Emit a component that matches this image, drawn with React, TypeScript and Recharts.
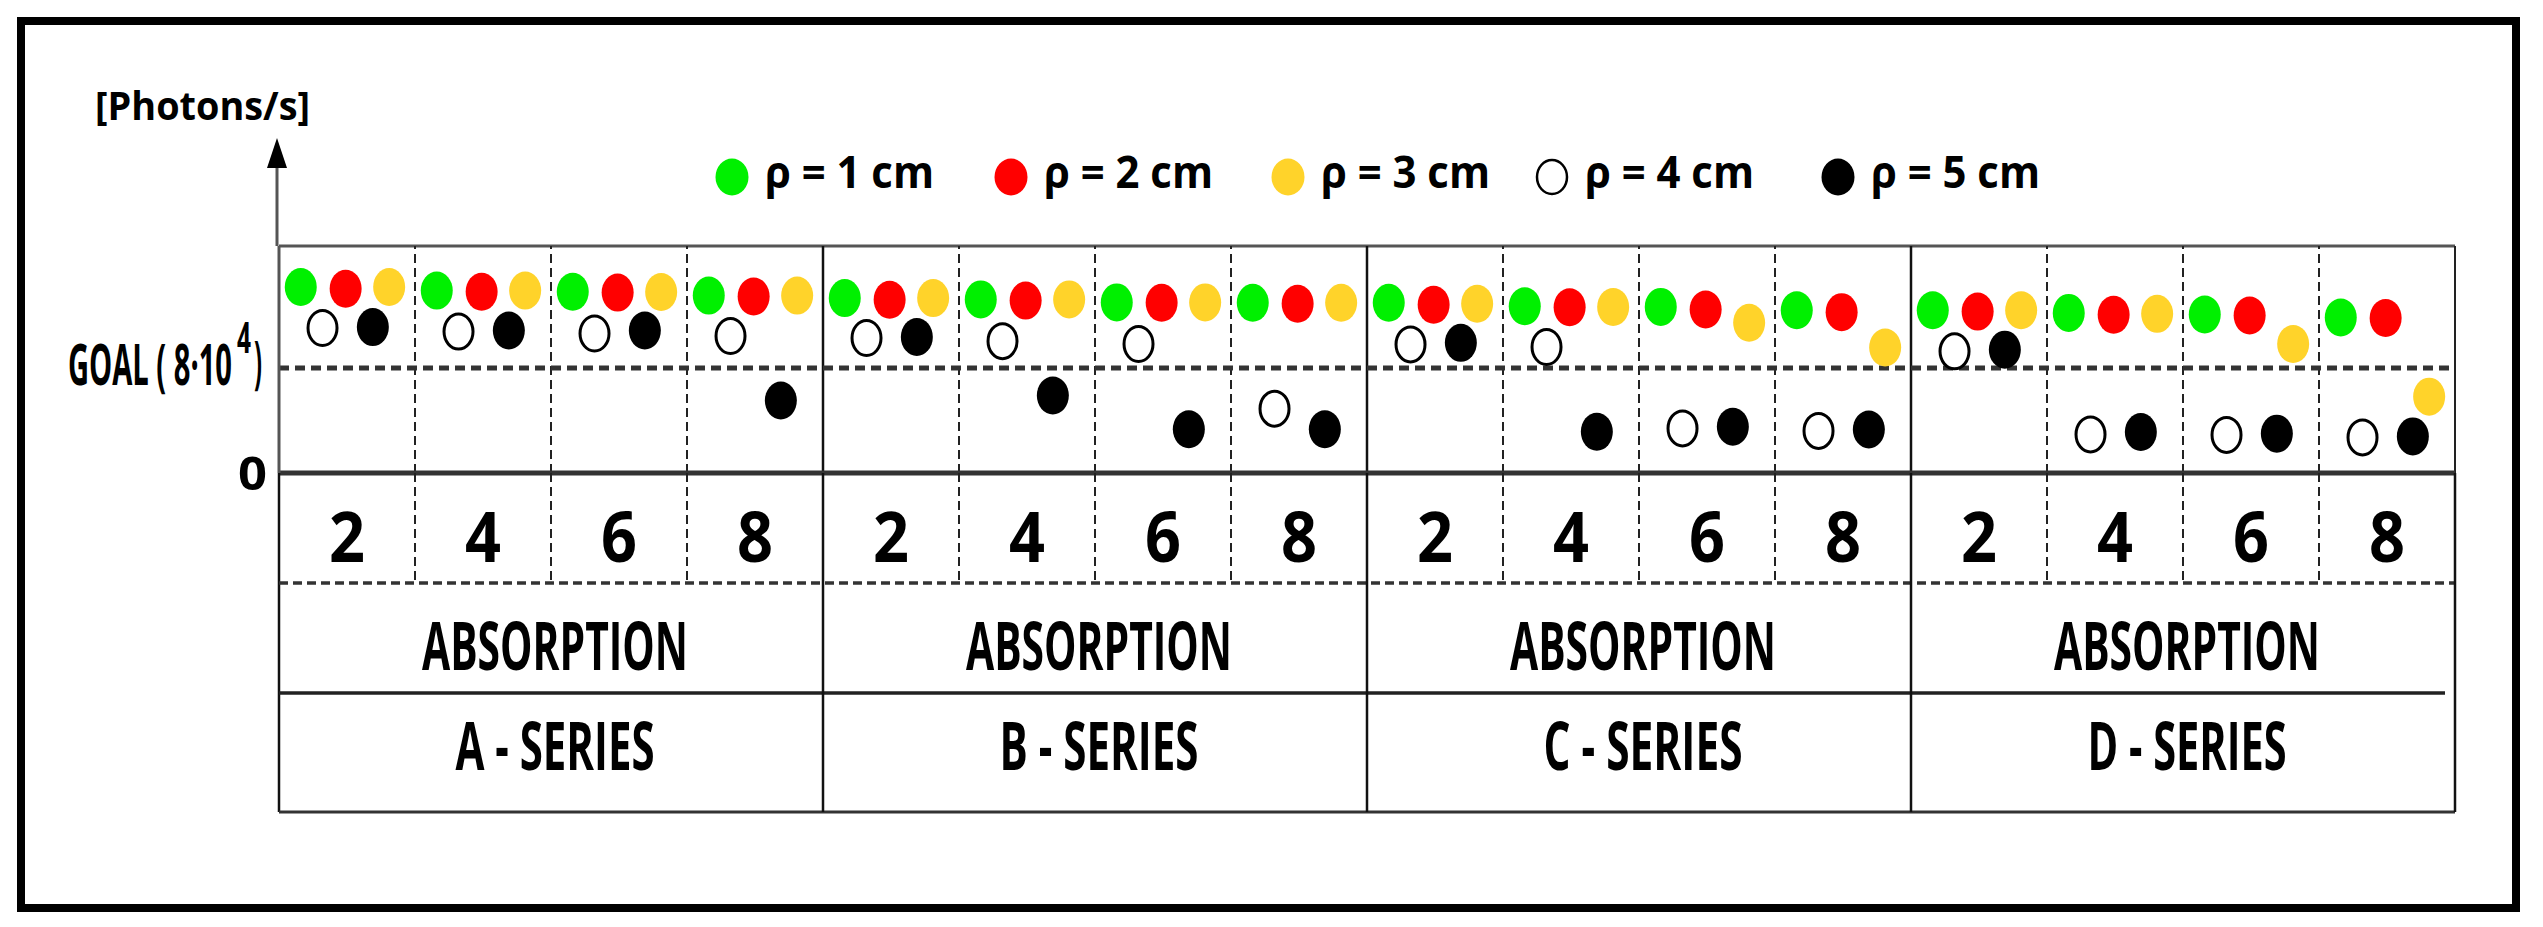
import React from 'react';
import { ScatterChart, Scatter, XAxis, YAxis, ReferenceLine, Legend } from 'recharts';

// ---------------- data ----------------
const CATEGORIES = ['2', '4', '6', '8', '2', '4', '6', '8', '2', '4', '6', '8', '2', '4', '6', '8'];
const GROUP_LABELS = ['A - SERIES', 'B - SERIES', 'C - SERIES', 'D - SERIES'];
const ROW_LABEL = 'ABSORPTION';
const Y_LABEL = '[Photons/s]';
const GOAL_TEXT = 'GOAL ( 8·10';
const GOAL_EXP = '4';
const GOAL_VALUE = 8; // 8·10^4 photons/s, in units of 10^4
const Y_MAX = 17.3;

// values in units of 10^4 photons/s, one per category column
const RHO1 = [14.17, 13.9, 13.81, 13.52, 13.33, 13.23, 13.0, 12.97, 12.97, 12.71, 12.66, 12.4, 12.4, 12.2, 12.08, 11.85];
const RHO2 = [14.04, 13.81, 13.75, 13.45, 13.2, 13.14, 12.97, 12.9, 12.82, 12.63, 12.46, 12.26, 12.3, 12.06, 12.0, 11.81];
const RHO3 = [14.17, 13.9, 13.79, 13.52, 13.33, 13.23, 13.0, 12.97, 12.9, 12.65, 11.45, 9.56, 12.4, 12.13, 9.83, 5.82];
const RHO4 = [11.05, 10.78, 10.63, 10.44, 10.29, 10.05, 9.83, 4.9, 9.8, 9.6, 3.4, 3.21, 9.27, 2.94, 2.9, 2.71];
const RHO5 = [11.12, 10.86, 10.86, 5.52, 10.37, 5.91, 3.33, 3.33, 9.92, 3.14, 3.53, 3.32, 9.4, 3.12, 3.0, 2.79];

const SERIES_NAMES = ['ρ = 1 cm', 'ρ = 2 cm', 'ρ = 3 cm', 'ρ = 4 cm', 'ρ = 5 cm'];
const SERIES_VALUES = [RHO1, RHO2, RHO3, RHO4, RHO5];

// ---------------- styles / layout ----------------
const SERIES_STYLE = [
  { fill: '#00F000', stroke: 'none', offset: 0.16 },
  { fill: '#FF0000', stroke: 'none', offset: 0.49 },
  { fill: '#FFD32A', stroke: 'none', offset: 0.81 },
  { fill: '#FFFFFF', stroke: '#000000', offset: 0.32 },
  { fill: '#000000', stroke: 'none', offset: 0.69 },
];

const W = 2543;
const H = 927;
const PLOT_LEFT = 279;
const PLOT_RIGHT = 2455;
const PLOT_TOP = 246;
const ZERO_Y = 473;
const TABLE_BOTTOM = 812;
const X_AXIS_H = TABLE_BOTTOM + 2 - ZERO_Y;
const NCOL = CATEGORIES.length;
const COL_W = (PLOT_RIGHT - PLOT_LEFT) / NCOL;
const FONT = "'Open Sans', 'DejaVu Sans', sans-serif";
const LEGEND_X = [732, 1011, 1288, 1552, 1838];

const seriesData = SERIES_VALUES.map((vals, s) =>
  vals.map((v, i) => ({ x: i + SERIES_STYLE[s].offset, y: v }))
);

const xTicks: number[] = [];
for (let i = 0; i <= NCOL * 2; i++) xTicks.push(i / 2);

const makeShape = (s: number) => (props: any) => {
  const st = SERIES_STYLE[s];
  if (props.cx == null || props.cy == null) return <g />;
  return (
    <ellipse
      cx={props.cx}
      cy={props.cy}
      rx={st.stroke === 'none' ? 16 : 14.5}
      ry={st.stroke === 'none' ? 19 : 17.5}
      fill={st.fill}
      stroke={st.stroke}
      strokeWidth={st.stroke === 'none' ? 0 : 3}
    />
  );
};

const TableTick = (props: any) => {
  const { x, y, payload } = props;
  const v = payload.value as number;
  const els: React.ReactNode[] = [];
  if (Number.isInteger(v)) {
    const isGroup = v % 4 === 0;
    if (isGroup) {
      els.push(<line key="vl" x1={x} x2={x} y1={y} y2={y + (TABLE_BOTTOM - ZERO_Y)} stroke="#111" strokeWidth={2.5} />);
    } else {
      els.push(<line key="vl" x1={x} x2={x} y1={y} y2={y + 110} stroke="#222" strokeWidth={2} strokeDasharray="9 5" />);
    }
    if (v === 0) {
      const w = NCOL * COL_W;
      els.push(<line key="h1" x1={x} x2={x + w} y1={y + 110} y2={y + 110} stroke="#333" strokeWidth={3.5} strokeDasharray="9 5" />);
      els.push(<line key="h2" x1={x} x2={x + w - 10} y1={y + 220} y2={y + 220} stroke="#222" strokeWidth={3.5} />);
      els.push(<line key="h3" x1={x} x2={x + w} y1={y + (TABLE_BOTTOM - ZERO_Y)} y2={y + (TABLE_BOTTOM - ZERO_Y)} stroke="#333" strokeWidth={3} />);
    }
    if (v % 4 === 2) {
      const g = Math.floor(v / 4);
      els.push(
        <text key="abs" x={x + 4} y={y + 197} textAnchor="middle" fontFamily={FONT} fontWeight={700} fontSize={66} fill="#000" textLength={266} lengthAdjust="spacingAndGlyphs">
          {ROW_LABEL}
        </text>
      );
      els.push(
        <text key="grp" x={x + 4} y={y + 297} textAnchor="middle" fontFamily={FONT} fontWeight={700} fontSize={66} fill="#000" textLength={199} lengthAdjust="spacingAndGlyphs">
          {GROUP_LABELS[g]}
        </text>
      );
    }
  } else {
    const idx = Math.floor(v);
    els.push(
      <text key="num" x={x} y={y + 89} textAnchor="middle" fontFamily={FONT} fontWeight={700} fontSize={70} fill="#000" textLength={36} lengthAdjust="spacingAndGlyphs">
        {CATEGORIES[idx]}
      </text>
    );
  }
  return <g>{els}</g>;
};

const GOAL_VSCALE = 1.9;

const YTick = (props: any) => {
  const { x, y, payload } = props;
  const v = payload.value as number;
  if (v === 0) {
    return (
      <text x={x - 12} y={y + 17} textAnchor="end" fontFamily={FONT} fontWeight={700} fontSize={46} fill="#000" textLength={29} lengthAdjust="spacingAndGlyphs">
        0
      </text>
    );
  }
  if (v === GOAL_VALUE) {
    // condensed label: small font stretched vertically
    return (
      <g transform={`translate(${x - 211}, ${y + 17}) scale(1, ${GOAL_VSCALE})`}>
        <text x={0} y={0} fontFamily={FONT} fontWeight={700} fontSize={30} fill="#000" textLength={164} lengthAdjust="spacingAndGlyphs">
          {GOAL_TEXT}
        </text>
        <text x={169} y={-17} fontFamily={FONT} fontWeight={700} fontSize={23} fill="#000" textLength={14} lengthAdjust="spacingAndGlyphs">
          {GOAL_EXP}
        </text>
        <text x={186} y={-1.5} fontFamily={FONT} fontWeight={700} fontSize={30} fill="#000" textLength={8} lengthAdjust="spacingAndGlyphs">
          )
        </text>
      </g>
    );
  }
  // top tick: arrow + unit label
  const ax = x - 2;
  return (
    <g>
      <line x1={ax} x2={ax} y1={y} y2={y - 82} stroke="#555" strokeWidth={3} />
      <polygon points={`${ax},${y - 108} ${ax - 10},${y - 78} ${ax + 10},${y - 78}`} fill="#000" />
      <text x={x - 184} y={y - 126} fontFamily={FONT} fontWeight={700} fontSize={39} fill="#000" textLength={215} lengthAdjust="spacingAndGlyphs">
        {Y_LABEL}
      </text>
    </g>
  );
};

const LegendContent = () => (
  <svg width={W} height={240} style={{ display: 'block' }}>
    {SERIES_NAMES.map((name, i) => {
      const st = SERIES_STYLE[i];
      const cx = LEGEND_X[i];
      return (
        <g key={name}>
          <ellipse
            cx={cx}
            cy={177}
            rx={st.stroke === 'none' ? 16.5 : 15}
            ry={st.stroke === 'none' ? 18.5 : 17}
            fill={st.fill}
            stroke={st.stroke}
            strokeWidth={st.stroke === 'none' ? 0 : 2.5}
          />
          <text x={cx + 33} y={188} fontFamily={FONT} fontWeight={700} fontSize={45} fill="#000" textLength={169} lengthAdjust="spacingAndGlyphs">
            {name}
          </text>
        </g>
      );
    })}
  </svg>
);

const groupBoundaries = [4, 8, 12];
const colBoundaries = CATEGORIES.map((_, i) => i).filter((i) => i > 0 && i % 4 !== 0);

export default function App() {
  return (
    <div style={{ position: 'absolute', left: 0, top: 0, width: W, height: H, background: '#fff' }}>
      <div
        style={{
          position: 'absolute',
          left: 17,
          top: 17,
          width: 2503,
          height: 895,
          border: '8px solid #000',
          boxSizing: 'border-box',
        }}
      />
      <div style={{ position: 'absolute', left: 0, top: 0 }}>
        <ScatterChart
          width={W}
          height={H}
          margin={{ top: PLOT_TOP, right: W - PLOT_RIGHT, left: 0, bottom: H - ZERO_Y - X_AXIS_H }}
        >
          <XAxis
            type="number"
            dataKey="x"
            domain={[0, NCOL]}
            ticks={xTicks}
            interval={0}
            tick={(p: any) => <TableTick {...p} />}
            tickLine={false}
            tickSize={0}
            tickMargin={0}
            height={X_AXIS_H}
            axisLine={{ stroke: '#333', strokeWidth: 5 }}
            allowDataOverflow
          />
          <YAxis
            type="number"
            dataKey="y"
            domain={[0, Y_MAX]}
            ticks={[0, GOAL_VALUE, Y_MAX]}
            interval={0}
            width={PLOT_LEFT}
            tick={(p: any) => <YTick {...p} />}
            tickLine={false}
            tickSize={0}
            tickMargin={0}
            axisLine={{ stroke: '#555', strokeWidth: 3 }}
            allowDataOverflow
          />
          <ReferenceLine y={Y_MAX} stroke="#555" strokeWidth={3} />
          <ReferenceLine x={NCOL} stroke="#222" strokeWidth={2} />
          {colBoundaries.map((b) => (
            <ReferenceLine key={'c' + b} x={b} stroke="#222" strokeWidth={2} strokeDasharray="9 5" />
          ))}
          {groupBoundaries.map((b) => (
            <ReferenceLine key={'g' + b} x={b} stroke="#111" strokeWidth={2.5} />
          ))}
          <ReferenceLine y={GOAL_VALUE} stroke="#333" strokeWidth={5} strokeDasharray="10 6" />
          {SERIES_NAMES.map((name, s) => (
            <Scatter
              key={name}
              name={name}
              data={seriesData[s]}
              fill={SERIES_STYLE[s].fill}
              shape={makeShape(s)}
              isAnimationActive={false}
            />
          ))}
          <Legend
            layout="horizontal"
            verticalAlign="middle"
            align="center"
            wrapperStyle={{ left: 0, top: 0, width: W, height: 240 }}
            content={() => <LegendContent />}
          />
        </ScatterChart>
      </div>
    </div>
  );
}
